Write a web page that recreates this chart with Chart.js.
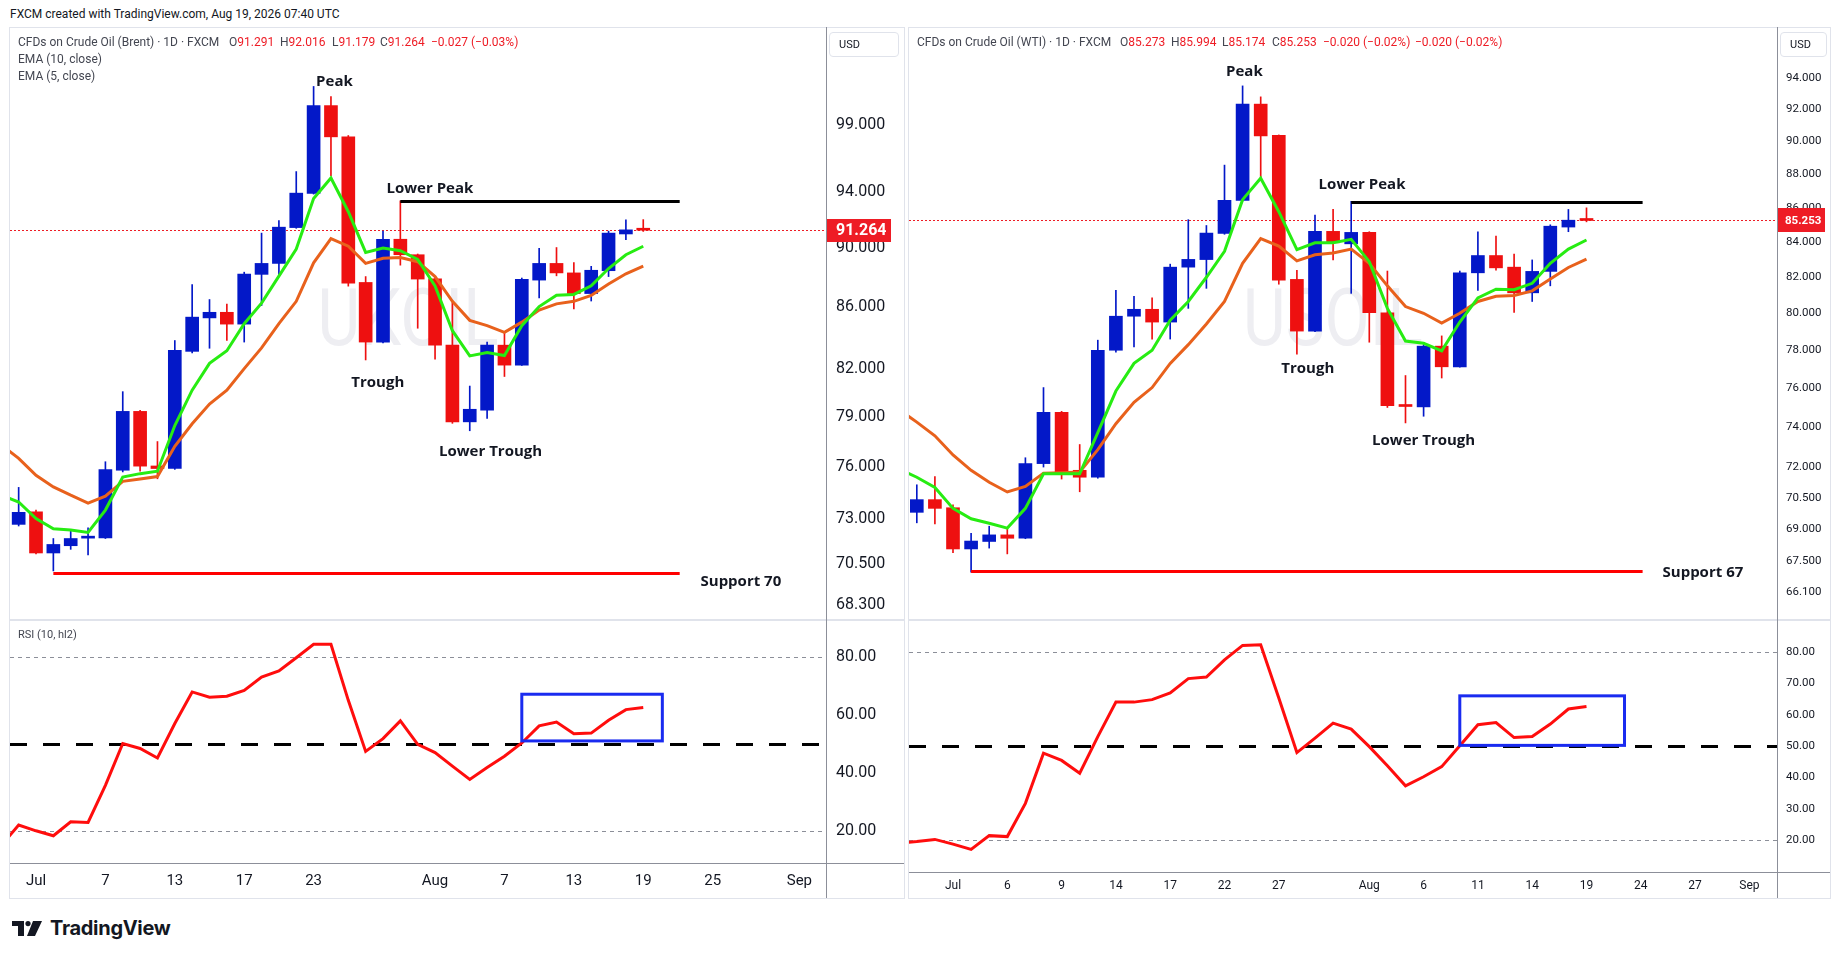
<!DOCTYPE html>
<html>
<head>
<meta charset="utf-8">
<script src="https://cdn.jsdelivr.net/npm/chart.js@4.4.0/dist/chart.umd.min.js"></script>
<style>
  body { margin: 0; width: 1838px; height: 959px; overflow: hidden; background: #fff; position: relative;
         font-family: Roboto, "Noto Sans", sans-serif; color: #131722; }
  .abs { position: absolute; white-space: nowrap; }
  canvas { position: absolute; }
  .frame { position: absolute; box-sizing: border-box; border: 1px solid #e0e3eb; pointer-events: none; }
  .ln { position: absolute; pointer-events: none; }
  .lg { position: absolute; font-size: 12px; line-height: 16px; color: #434651; white-space: nowrap; }
  .lg b { font-weight: normal; color: #ee1c25; }
  .usd { position: absolute; box-sizing: border-box; border: 1px solid #e0e3eb; border-radius: 4px;
         font-size: 11px; line-height: 23px; color: #131722; }
</style>
</head>
<body>

<div class="abs" style="left:10px;top:7px;font-size:12px;">FXCM created with TradingView.com, Aug 19, 2026 07:40 UTC</div>

<canvas id="brentPrice" width="894" height="592" style="left:10px;top:27px"></canvas>
<canvas id="brentRsi" width="894" height="278" style="left:10px;top:620px"></canvas>
<canvas id="wtiPrice" width="921" height="592" style="left:909px;top:27px"></canvas>
<canvas id="wtiRsi" width="921" height="278" style="left:909px;top:620px"></canvas>

<!-- panel frames and separators -->
<div class="frame" style="left:9px;top:27px;width:896px;height:872px"></div>
<div class="ln" style="left:10px;top:619px;width:894px;height:2px;background:#e0e3eb"></div>
<div class="ln" style="left:826px;top:27px;width:1px;height:871px;background:#8c8f99"></div>
<div class="ln" style="left:10px;top:863px;width:894px;height:1px;background:#8c8f99"></div>

<div class="frame" style="left:908px;top:27px;width:923px;height:872px"></div>
<div class="ln" style="left:909px;top:619px;width:921px;height:2px;background:#e0e3eb"></div>
<div class="ln" style="left:1777px;top:27px;width:1px;height:871px;background:#8c8f99"></div>
<div class="ln" style="left:909px;top:872px;width:921px;height:1px;background:#8c8f99"></div>

<!-- legends -->
<div class="lg" style="left:18px;top:34px">CFDs on Crude Oil (Brent) · 1D · FXCM</div>
<div class="lg" style="left:229px;top:34px">O<b>91.291</b></div>
<div class="lg" style="left:280px;top:34px">H<b>92.016</b></div>
<div class="lg" style="left:332px;top:34px">L<b>91.179</b></div>
<div class="lg" style="left:380px;top:34px">C<b>91.264</b></div>
<div class="lg" style="left:431px;top:34px"><b>−0.027 (−0.03%)</b></div>
<div class="lg" style="left:18px;top:51px">EMA (10, close)</div>
<div class="lg" style="left:18px;top:68px">EMA (5, close)</div>
<div class="lg" style="left:18px;top:627px;font-size:11px">RSI (10, hl2)</div>

<div class="lg" style="left:917px;top:34px">CFDs on Crude Oil (WTI) · 1D · FXCM</div>
<div class="lg" style="left:1120px;top:34px">O<b>85.273</b></div>
<div class="lg" style="left:1171px;top:34px">H<b>85.994</b></div>
<div class="lg" style="left:1222px;top:34px">L<b>85.174</b></div>
<div class="lg" style="left:1272px;top:34px">C<b>85.253</b></div>
<div class="lg" style="left:1323px;top:34px"><b>−0.020 (−0.02%)</b></div>
<div class="lg" style="left:1415px;top:34px"><b>−0.020 (−0.02%)</b></div>

<div class="usd" style="left:829px;top:32px;width:70px;height:25px;padding-left:9px">USD</div>
<div class="usd" style="left:1780px;top:32px;width:47px;height:25px;padding-left:9px">USD</div>

<!-- logo -->
<svg class="abs" style="left:12px;top:921px" width="32" height="16" viewBox="0 0 32 16">
  <path d="M0 0H12V15H6V5H0Z" fill="#131722"/>
  <circle cx="16" cy="2.6" r="2.6" fill="#131722"/>
  <path d="M21 0H30L23 15H15Z" fill="#131722"/>
</svg>
<div class="abs" style="left:50px;top:916px;font-family:Inter,Roboto,sans-serif;font-weight:700;font-size:20px;letter-spacing:-0.3px;color:#131722">TradingView</div>

<script>
// bar index 0 = 1 Jul, weekends skipped

// ---- Brent (UKOIL) ----
const brentFirst = -1;
const brentOpen  = [72.69, 73.4, 71.1, 71.5, 71.92, 71.93, 75.8, 79.33, 76.05, 75.9, 83.1, 85.28, 85.65, 84.87, 88.2, 88.95, 91.45, 93.9, 100.5,
                    98.1, 87.65, 83.7, 90.63, 89.55, 87.9, 83.5, 78.69, 79.4, 83.5, 82.22, 87.81, 88.95, 88.3, 86.9, 88.45, 91.0, 91.291];
const brentHigh  = [74.8, 73.5, 71.9, 72.4, 72.5, 76.3, 80.55, 79.4, 77.5, 83.8, 87.5, 86.5, 86.2, 88.35, 91.06, 91.95, 95.5, 102.0, 101.2,
                    98.2, 88.05, 91.2, 93.36, 89.6, 88.0, 86.3, 80.9, 83.7, 84.3, 87.95, 90.0, 90.05, 89.0, 88.75, 91.2, 92.0, 92.016];
const brentLow   = [72.6, 71.05, 70.12, 71.3, 71.0, 71.9, 75.7, 75.75, 75.3, 75.85, 83.0, 83.3, 83.8, 83.7, 86.1, 88.2, 91.4, 93.85, 95.2,
                    87.4, 82.55, 83.65, 88.83, 84.6, 82.6, 78.6, 78.15, 78.9, 81.5, 82.2, 86.6, 88.1, 85.87, 86.4, 88.05, 90.6, 91.179];
const brentClose = [73.37, 71.1, 71.57, 71.9, 71.97, 75.84, 79.33, 76.04, 75.9, 83.17, 85.33, 85.65, 84.87, 88.22, 88.95, 91.48, 93.92, 100.5, 98.1,
                    87.6, 83.7, 90.63, 89.55, 87.88, 83.5, 78.69, 79.46, 83.5, 82.22, 87.86, 88.95, 88.3, 86.9, 88.48, 91.06, 91.29, 91.264];
const brentLineFirst = -2;
const brentEma5  = [74.36, 73.96, 73.02, 72.44, 72.38, 72.24, 73.5, 75.4, 75.6, 75.74, 78.47, 80.64, 82.33, 83.14, 84.9, 86.26, 88.08, 89.95, 93.53,
                    95.03, 92.58, 89.71, 90.02, 89.83, 89.23, 87.42, 84.44, 82.81, 83.03, 82.83, 84.77, 86.03, 86.79, 86.84, 87.42, 88.6, 89.55, 90.14];
const brentEma10 = [77.3, 76.5, 75.5, 74.83, 74.35, 73.9, 74.29, 75.15, 75.29, 75.43, 77.22, 78.57, 79.78, 80.64, 82.0, 83.32, 84.9, 86.38, 88.99,
                    90.68, 90.14, 88.95, 89.3, 89.35, 89.07, 88.05, 86.38, 85.12, 84.77, 84.33, 85.0, 85.8, 86.21, 86.38, 86.77, 87.54, 88.24, 88.77];
const brentRsi   = [15, 22.1, 20.1, 18.4, 23.2, 23.0, 35.8, 50.2, 48.5, 45.2, 57.1, 68.0, 66.2, 66.5, 68.5, 73.1, 75.2, 79.8, 84.4,
                    84.4, 65.1, 47.5, 51.9, 58.0, 49.9, 47.1, 42.4, 37.8, 41.9, 45.8, 50.4, 56.3, 57.6, 53.6, 53.8, 58.2, 61.9, 62.6];
const brentTickIdx    = [0, 4, 8, 12, 16, 23, 27, 31, 35, 39, 44];
const brentTickLabels = ['Jul', '7', '13', '17', '23', 'Aug', '7', '13', '19', '25', 'Sep'];
const brentPriceTicks = [68.3, 70.5, 73, 76, 79, 82, 86, 90, 94, 99];
const brentRsiTicks   = [20, 40, 60, 80];
const brentLast = 91.264, brentLowerPeak = 93.35, brentSupport = 70.0;

// ---- WTI (USOIL) ----
const wtiFirst = -2;
const wtiOpen  = [69.8, 70.41, 70.02, 68.07, 68.42, 68.73, 68.57, 72.17, 74.75, 71.84, 71.5, 78.0, 79.84, 80.22, 79.52, 82.57, 83.0, 84.5, 86.44,
                  92.33, 90.38, 81.88, 79.03, 84.62, 83.9, 84.56, 80.03, 75.14, 75.03, 78.22, 77.12, 82.25, 83.23, 82.57, 81.13, 82.33, 84.87, 85.273];
const wtiHigh  = [71.13, 71.53, 70.16, 68.8, 69.14, 69.0, 72.46, 76.03, 74.8, 73.12, 78.54, 81.27, 80.94, 80.85, 82.74, 85.3, 84.96, 88.55, 93.49,
                  92.79, 90.4, 82.39, 85.57, 85.9, 86.38, 84.6, 82.35, 76.66, 78.3, 78.77, 82.35, 84.6, 84.35, 83.31, 82.98, 85.0, 85.9, 85.994];
const wtiLow   = [69.3, 69.25, 67.9, 67.0, 68.11, 67.84, 68.55, 72.0, 71.41, 70.79, 71.45, 77.9, 78.18, 78.59, 78.6, 80.27, 81.38, 84.45, 86.4,
                  87.82, 81.61, 77.79, 79.0, 82.98, 81.1, 78.43, 75.0, 74.21, 74.55, 76.53, 77.1, 81.27, 82.4, 80.05, 80.65, 81.52, 84.6, 85.174];
const wtiClose = [70.41, 69.99, 68.07, 68.44, 68.73, 68.57, 72.17, 74.75, 71.75, 71.5, 78.0, 79.84, 80.22, 79.52, 82.57, 83.01, 84.52, 86.44, 92.33,
                  90.34, 81.84, 79.03, 84.62, 83.96, 84.56, 80.03, 75.09, 75.05, 78.22, 77.12, 82.25, 83.23, 82.53, 81.13, 82.33, 84.92, 85.27, 85.253];
const wtiLineFirst = -3;
const wtiEma5  = [71.9, 71.5, 71.0, 69.99, 69.49, 69.28, 69.05, 69.99, 71.67, 71.67, 71.67, 73.72, 75.85, 77.3, 78.0, 79.62, 80.65, 82.0, 83.47,
                  86.48, 87.76, 85.77, 83.57, 83.96, 83.96, 84.16, 82.88, 80.27, 78.49, 78.37, 77.97, 79.52, 80.85, 81.33, 81.3, 81.66, 82.79, 83.6, 84.12];
const wtiEma10 = [74.9, 74.25, 73.56, 72.6, 71.84, 71.25, 70.78, 71.05, 71.7, 71.72, 71.75, 72.86, 74.17, 75.27, 76.03, 77.3, 78.3, 79.42, 80.65,
                  82.79, 84.2, 83.77, 82.93, 83.27, 83.37, 83.6, 82.79, 81.52, 80.37, 80.0, 79.47, 80.0, 80.65, 80.94, 80.98, 81.24, 81.9, 82.55, 83.03];
const wtiRsi   = [19.0, 19.5, 20.2, 18.7, 17.0, 21.4, 21.1, 31.7, 47.7, 45.4, 41.3, 53.0, 64.0, 64.0, 64.8, 66.9, 71.5, 72.0, 77.5,
                  82.1, 82.3, 65.3, 47.9, 52.5, 57.3, 55.4, 49.8, 43.7, 37.3, 40.2, 43.4, 50.1, 56.8, 57.5, 52.7, 53.0, 57.0, 61.8, 62.6];
const wtiTickIdx    = [0, 3, 6, 9, 12, 15, 18, 23, 26, 29, 32, 35, 38, 41, 44];
const wtiTickLabels = ['Jul', '6', '9', '14', '17', '22', '27', 'Aug', '6', '11', '14', '19', '24', '27', 'Sep'];
const wtiPriceTicks = [66.1, 67.5, 69, 70.5, 72, 74, 76, 78, 80, 82, 84, 86, 88, 90, 92, 94];
const wtiRsiTicks   = [20, 30, 40, 50, 60, 70, 80];
const wtiLast = 85.253, wtiLowerPeak = 86.34, wtiSupport = 67.05;

const UP = '#0318c8', DOWN = '#ee1010', GREEN = '#27ec12', ORANGE = '#e8611c';
const RSI_RED = '#ff0d0d', BOX_BLUE = '#1a2bf0', TAG_RED = '#ee1c25', INK = '#131722';
const NOTE_FONT = 'bold 15px "Open Sans", "Noto Sans", sans-serif';

function candles(first, o, h, l, c, bodyW) {
  const colors = o.map((v, i) => c[i] >= v ? UP : DOWN);
  return [
    { type: 'bar', order: 4, grouped: false, barThickness: 1, backgroundColor: colors,
      data: o.map((v, i) => ({ x: first + i, y: [l[i], h[i]] })) },
    { type: 'bar', order: 3, grouped: false, barThickness: bodyW, minBarLength: 2, backgroundColor: colors,
      data: o.map((v, i) => ({ x: first + i, y: [v, c[i]] })) }
  ];
}

function series(first, vals, color, order) {
  return { type: 'line', order: order, borderColor: color, borderWidth: 3, pointRadius: 0, tension: 0,
           data: vals.map((v, i) => ({ x: first + i, y: v })) };
}

function hline(ctx, a, xs, ys, l) {
  const py = Math.round(ys.getPixelForValue(l.y)) + (l.w % 2 ? 0.5 : 0);
  const x0 = l.x0 === undefined ? a.left : xs.getPixelForValue(l.x0);
  const x1 = l.x1 === undefined ? a.right : xs.getPixelForValue(l.x1);
  ctx.beginPath();
  ctx.setLineDash(l.dash || []);
  ctx.lineWidth = l.w;
  ctx.strokeStyle = l.c;
  ctx.moveTo(x0, py);
  ctx.lineTo(x1, py);
  ctx.stroke();
}

// watermark, levels, boxes, notes and the last price tag
const marks = {
  id: 'marks',
  beforeDatasetsDraw(chart, args, o) {
    const { ctx, chartArea: a, scales: { x, y } } = chart;
    ctx.save();
    ctx.beginPath();
    ctx.rect(a.left, a.top, a.width, a.height);
    ctx.clip();
    if (o.watermark) {
      ctx.save();
      ctx.fillStyle = '#eeeef2';
      ctx.font = '80px Roboto';
      ctx.textAlign = 'center';
      ctx.textBaseline = 'middle';
      ctx.translate((a.left + a.right) / 2 - 10, (a.top + a.bottom) / 2 + 2);
      ctx.scale(0.82, 1);
      ctx.fillText(o.watermark, 0, 0);
      ctx.restore();
    }
    (o.under || []).forEach(l => hline(ctx, a, x, y, l));
    ctx.restore();
  },
  afterDatasetsDraw(chart, args, o) {
    const { ctx, chartArea: a, scales: { x, y } } = chart;
    ctx.save();
    (o.over || []).forEach(l => hline(ctx, a, x, y, l));
    ctx.setLineDash([]);
    (o.rects || []).forEach(r => {
      const x0 = x.getPixelForValue(r.x0), x1 = x.getPixelForValue(r.x1);
      const y0 = y.getPixelForValue(r.y1), y1 = y.getPixelForValue(r.y0);
      ctx.lineWidth = r.w;
      ctx.strokeStyle = r.c;
      ctx.strokeRect(x0, y0, x1 - x0, y1 - y0);
    });
    ctx.fillStyle = INK;
    ctx.font = NOTE_FONT;
    ctx.textBaseline = 'middle';
    (o.texts || []).forEach(t => {
      ctx.textAlign = t.align;
      ctx.fillText(t.t, x.getPixelForValue(t.x), y.getPixelForValue(t.y));
    });
    ctx.restore();
  },
  afterDraw(chart, args, o) {
    if (!o.tag) return;
    const { ctx, chartArea: a, scales: { y } } = chart;
    const t = o.tag;
    const py = y.getPixelForValue(t.y);
    ctx.save();
    ctx.fillStyle = TAG_RED;
    ctx.fillRect(a.right, Math.round(py - t.h / 2), t.w, t.h);
    ctx.fillStyle = '#fff';
    ctx.font = t.font;
    ctx.textAlign = 'left';
    ctx.textBaseline = 'middle';
    ctx.fillText(t.y.toFixed(3), a.right + t.pad, py + 1);
    ctx.restore();
  }
};

function makeChart(id, c) {
  return new Chart(document.getElementById(id), {
    type: 'bar',
    data: { datasets: c.datasets },
    plugins: [marks],
    options: {
      responsive: false,
      animation: false,
      events: [],
      layout: { padding: 0 },
      plugins: { legend: { display: false }, tooltip: { enabled: false }, marks: c.marks },
      scales: {
        x: {
          type: 'linear', min: c.xMin, max: c.xMax, offset: false, display: !!c.xTicks,
          grid: { display: false, drawTicks: false }, border: { display: false },
          afterBuildTicks: s => { if (c.xTicks) s.ticks = c.xTicks.map(v => ({ value: v })); },
          afterFit: s => { s.height = c.xHeight || 0; s.paddingLeft = 0; s.paddingRight = 0; },
          ticks: {
            autoSkip: false, maxRotation: 0, padding: c.xPad || 0, color: INK,
            font: { family: 'Roboto', size: c.xFont || 12 },
            callback: v => c.xTicks ? c.xLabels[c.xTicks.indexOf(v)] : ''
          }
        },
        y: {
          type: c.yType, position: 'right', min: c.yMin, max: c.yMax,
          grid: { display: false, drawTicks: false }, border: { display: false },
          afterBuildTicks: s => { s.ticks = c.yTicks.map(v => ({ value: v })); },
          afterFit: s => { s.width = c.axisW; s.paddingTop = 0; s.paddingBottom = 0; },
          ticks: {
            autoSkip: false, padding: c.yPad, color: INK,
            font: { family: 'Roboto', size: c.yFont },
            callback: v => Number(v).toFixed(c.digits)
          }
        }
      }
    }
  });
}

// Brent price pane
makeChart('brentPrice', {
  datasets: [
    ...candles(brentFirst, brentOpen, brentHigh, brentLow, brentClose, 13),
    series(brentLineFirst, brentEma10, ORANGE, 2),
    series(brentLineFirst, brentEma5, GREEN, 1)
  ],
  xMin: -1.499, xMax: 45.533,
  yType: 'logarithmic', yMin: 67.56, yMax: 106.8, yTicks: brentPriceTicks, digits: 3,
  axisW: 78, yPad: 10, yFont: 16,
  marks: {
    watermark: 'UKOIL',
    under: [{ y: brentLast, c: TAG_RED, w: 1, dash: [2, 2] }],
    over: [
      { y: brentLowerPeak, x0: 21, x1: 37.1, c: '#000', w: 3 },
      { y: brentSupport, x0: 1, x1: 37.1, c: '#ff0000', w: 3 }
    ],
    texts: [
      { t: 'Peak', x: 17.2, y: 102.35, align: 'center' },
      { t: 'Lower Peak', x: 20.2, y: 94.22, align: 'left' },
      { t: 'Trough', x: 19.7, y: 81.09, align: 'center' },
      { t: 'Lower Trough', x: 26.2, y: 76.87, align: 'center' },
      { t: 'Support 70', x: 38.3, y: 69.52, align: 'left' }
    ],
    tag: { y: brentLast, w: 65, h: 23, pad: 10, font: 'bold 16px Roboto' }
  }
});

// Brent RSI pane
makeChart('brentRsi', {
  datasets: [series(brentLineFirst, brentRsi, RSI_RED, 1)],
  xMin: -1.499, xMax: 45.533, xTicks: brentTickIdx, xLabels: brentTickLabels, xHeight: 35, xPad: 9, xFont: 15,
  yType: 'linear', yMin: 9.0, yMax: 92.8, yTicks: brentRsiTicks, digits: 2,
  axisW: 78, yPad: 10, yFont: 16,
  marks: {
    under: [
      { y: 80, c: '#8c8f99', w: 1, dash: [4, 4] },
      { y: 20, c: '#8c8f99', w: 1, dash: [4, 4] },
      { y: 50, c: '#000', w: 3, dash: [17, 16] }
    ],
    rects: [{ x0: 28.0, x1: 36.1, y0: 51.1, y1: 67.2, c: BOX_BLUE, w: 3 }]
  }
});

// WTI price pane
makeChart('wtiPrice', {
  datasets: [
    ...candles(wtiFirst, wtiOpen, wtiHigh, wtiLow, wtiClose, 13),
    series(wtiLineFirst, wtiEma10, ORANGE, 2),
    series(wtiLineFirst, wtiEma5, GREEN, 1)
  ],
  xMin: -2.431, xMax: 45.525,
  yType: 'logarithmic', yMin: 64.88, yMax: 97.34, yTicks: wtiPriceTicks, digits: 3,
  axisW: 53, yPad: 9, yFont: 11.5,
  marks: {
    watermark: 'USOIL',
    under: [{ y: wtiLast, c: TAG_RED, w: 1, dash: [2, 2] }],
    over: [
      { y: wtiLowerPeak, x0: 22, x1: 38.1, c: '#000', w: 3 },
      { y: wtiSupport, x0: 1, x1: 38.1, c: '#ff0000', w: 3 }
    ],
    texts: [
      { t: 'Peak', x: 16.1, y: 94.39, align: 'center' },
      { t: 'Lower Peak', x: 20.2, y: 87.35, align: 'left' },
      { t: 'Trough', x: 19.6, y: 77.0, align: 'center' },
      { t: 'Lower Trough', x: 26.0, y: 73.29, align: 'center' },
      { t: 'Support 67', x: 39.2, y: 66.96, align: 'left' }
    ],
    tag: { y: wtiLast, w: 48, h: 24, pad: 8, font: 'bold 11.5px Roboto' }
  }
});

// WTI RSI pane
makeChart('wtiRsi', {
  datasets: [series(wtiLineFirst, wtiRsi, RSI_RED, 1)],
  xMin: -2.431, xMax: 45.525, xTicks: wtiTickIdx, xLabels: wtiTickLabels, xHeight: 26, xPad: 7, xFont: 12,
  yType: 'linear', yMin: 9.8, yMax: 90.2, yTicks: wtiRsiTicks, digits: 2,
  axisW: 53, yPad: 9, yFont: 11.5,
  marks: {
    under: [
      { y: 80, c: '#8c8f99', w: 1, dash: [4, 4] },
      { y: 20, c: '#8c8f99', w: 1, dash: [4, 4] },
      { y: 50, c: '#000', w: 3, dash: [17, 16] }
    ],
    rects: [{ x0: 28.0, x1: 37.1, y0: 50.2, y1: 66.0, c: BOX_BLUE, w: 3 }]
  }
});
</script>
</body>
</html>
